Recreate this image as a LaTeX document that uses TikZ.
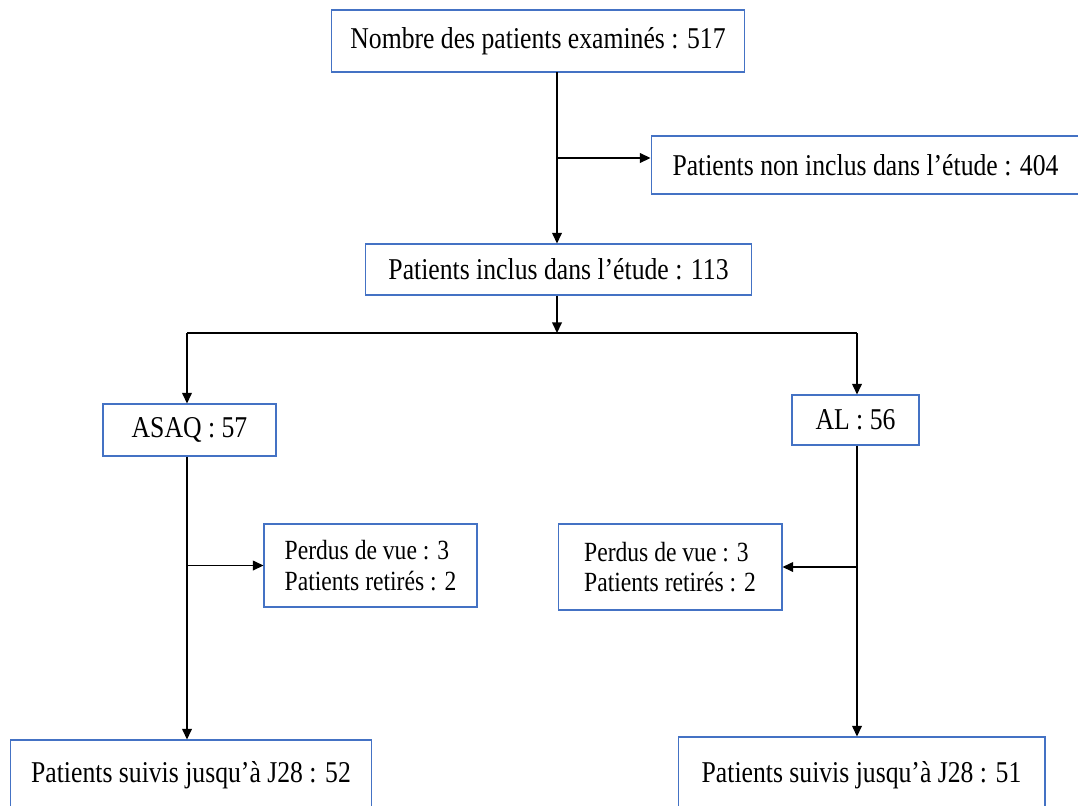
\documentclass[tikz,border=0pt]{standalone}
\usepackage{fontspec}
\setmainfont[FakeStretch=0.85]{Liberation Serif}
\usepackage{tikz}
\usetikzlibrary{arrows.meta}
\definecolor{cadre}{RGB}{68,114,196}

\begin{document}
\begin{tikzpicture}[x=0.02cm, y=-0.02cm,
        >={Triangle[length=6pt, width=5.5pt]},
        fleche/.style={line width=0.75pt, black},
        boite/.style={draw=cadre, line width=0.6pt, inner sep=0pt, font=\fontsize{17.2}{20}\selectfont},
        petite/.style={boite, align=left, font=\fontsize{15.8}{17.5}\selectfont}]
        \useasboundingbox (0, 0) rectangle (1078, 805);
        \node[boite, minimum width=8.26cm, minimum height=1.24cm] (examines) at (538, 41) {Nombre des patients examinés : 517};
        \node[boite, minimum width=8.58cm, minimum height=1.16cm] (noninclus) at (865.5, 165) {Patients non inclus dans l’étude : 404};
        \node[boite, minimum width=7.74cm, minimum height=1.02cm] (inclus) at (558.5, 269.5) {Patients inclus dans l’étude : 113};
        \node[boite, minimum width=3.46cm, minimum height=1.04cm] (asao) at (189.5, 430) {ASAQ : 57};
        \node[boite, minimum width=2.54cm, minimum height=1.00cm] (al) at (855.5, 420) {AL : 56};
        \node[petite, minimum width=4.26cm, minimum height=1.66cm] (perdusA) at (370.5, 565.5) {Perdus de vue : 3\\Patients retirés : 2};
        \node[petite, minimum width=4.48cm, minimum height=1.72cm] (perdusB) at (670, 567) {Perdus de vue : 3\\Patients retirés : 2};
        \node[boite, minimum width=7.24cm, minimum height=1.40cm] (suivisA) at (191, 775) {Patients suivis jusqu’à J28 : 52};
        \node[boite, minimum width=7.34cm, minimum height=1.52cm] (suivisB) at (861.5, 775) {Patients suivis jusqu’à J28 : 51};
        \coordinate (tronc) at (557, 72);
        \coordinate (split) at (557, 333);
        \coordinate (gauche) at (187, 333);
        \coordinate (droite) at (857, 333);
        \draw[fleche, ->] (tronc) -- (inclus.north -| tronc);
        \draw[fleche, ->] ([yshift=0.14cm] tronc |- noninclus.west) -- ([yshift=0.14cm] noninclus.west);
        \draw[fleche, ->] (inclus.south -| split) -- (split);
        \draw[fleche] (gauche) -- (droite);
        \draw[fleche, ->] (gauche) -- (asao.north -| gauche);
        \draw[fleche, ->] (droite) -- (al.north -| droite);
        \draw[fleche, ->] (asao.south -| gauche) -- (suivisA.north -| gauche);
        \draw[fleche, ->] (gauche |- perdusA.west) -- (perdusA.west);
        \draw[fleche, ->] (al.south -| droite) -- (suivisB.north -| droite);
        \draw[fleche, ->] (droite |- perdusB.east) -- (perdusB.east);
    \end{tikzpicture}
\end{document}
